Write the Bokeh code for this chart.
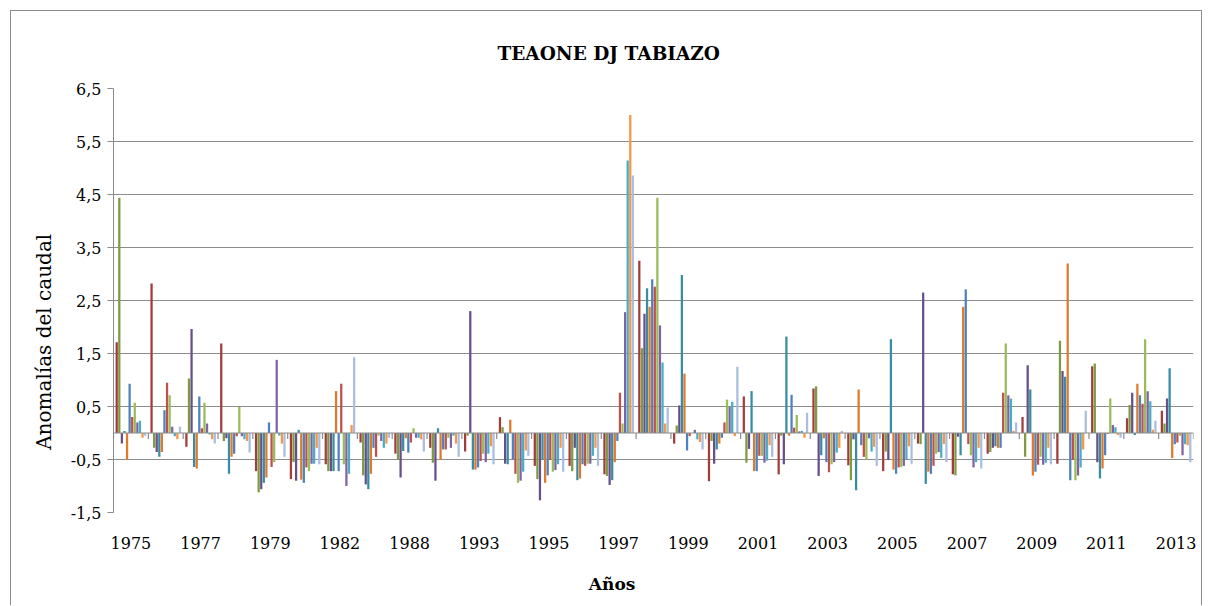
from bokeh.plotting import figure
from bokeh.models import FixedTicker, Range1d, Span, Title
from bokeh.embed import file_html
from bokeh.resources import INLINE

# Categorías (años) y anomalías mensuales (12 series)
anios = ["1975", "1976", "1977", "1978", "1979", "1981", "1982", "1983", "1988", "1990",
         "1993", "1994", "1995", "1996", "1997", "1998", "1999", "2000", "2001", "2002",
         "2003", "2004", "2005", "2006", "2007", "2008", "2009", "2010", "2011", "2012", "2013"]

m01 = [1.71, 2.82, -0.26, 1.69, -0.72, -0.87, -0.59, -0.18, -0.39, -0.28, -0.35, 0.3, -0.62, -0.62, -0.78, 3.25,
       -0.2, -0.91, 0.69, -0.78, 0.84, -0.61, -0.72, -0.2, -0.78, -0.39, 0.3, -0.58, 1.26, 0.28, 0.42]
m02 = [4.44, -0.28, 1.03, -0.15, -1.12, -0.55, -0.72, -0.8, -0.51, -0.56, -0.05, 0.11, -0.87, -0.72, -0.81, 1.6,
       0.14, -0.15, -0.56, -0.05, 0.88, -0.89, -0.35, -0.21, -0.8, -0.36, -0.45, 1.74, 1.31, 0.53, 0.18]
m03 = [-0.2, -0.36, 1.96, -0.1, -1.06, -0.9, -0.72, -0.97, -0.84, -0.9, 2.3, -0.58, -1.27, -0.28, -0.98, 2.25,
       0.52, -0.58, -0.3, -0.59, -0.81, -0.12, -0.51, 2.65, -0.07, -0.28, 1.28, 1.17, -0.55, 0.76, 0.65]
m04 = [0.04, -0.45, -0.64, -0.77, -0.94, 0.06, -0.72, -1.06, -0.34, 0.09, -0.69, -0.59, -0.5, -0.89, -0.89, 2.73,
       2.98, -0.31, 0.79, 1.82, -0.42, -1.08, 1.77, -0.96, -0.42, -0.25, 0.82, 1.06, -0.86, -0.04, 1.22]
m05 = [-0.51, -0.36, -0.67, -0.45, -0.84, -0.88, 0.79, -0.77, -0.1, -0.51, -0.69, 0.25, -0.94, -0.86, -0.55, 2.38,
       1.12, -0.2, -0.72, -0.05, -0.1, 0.82, -0.69, -0.73, 2.38, -0.28, -0.8, 3.2, -0.67, 0.93, -0.47]
m06 = [0.93, 0.43, 0.69, -0.39, 0.2, -0.94, -0.72, -0.28, -0.37, -0.31, -0.65, -0.5, -0.8, -0.59, -0.15, 2.9,
       -0.33, -0.09, -0.72, 0.72, -0.55, -0.23, -0.77, -0.77, 2.71, -0.28, -0.73, -0.89, -0.42, 0.71, -0.21]
m07 = [0.3, 0.95, 0.09, -0.06, -0.64, -0.65, 0.93, -0.45, -0.18, -0.31, -0.53, -0.77, -0.51, -0.62, 0.76, 2.76,
       -0.06, 0.2, -0.43, 0.1, -0.74, -0.45, -0.65, -0.62, -0.21, 0.76, -0.6, -0.51, -0.02, 0.55, -0.18]
m08 = [0.57, 0.71, 0.57, 0.49, -0.55, -0.72, -0.59, -0.05, 0.09, -0.09, -0.39, -0.94, -0.73, -0.58, 0.18, 4.44,
       0.0, 0.63, -0.43, 0.34, -0.59, -0.5, -0.64, -0.39, -0.42, 1.69, -0.45, -0.89, 0.65, 1.77, -0.05]
m09 = [0.2, 0.12, 0.18, -0.06, 1.38, -0.58, -1.0, -0.15, -0.09, -0.28, -0.55, -0.9, -0.7, -0.58, 2.28, 2.03,
       0.06, 0.49, -0.56, 0.03, -0.55, -0.1, -0.62, -0.36, -0.65, 0.71, -0.6, -0.8, 0.15, 0.79, -0.42]
m10 = [0.23, -0.06, -0.03, -0.12, -0.05, -0.58, -0.77, -0.28, -0.09, -0.05, -0.39, -0.73, -0.59, -0.43, 5.14, 1.33,
       -0.12, 0.59, -0.52, 0.04, -0.37, -0.35, -0.5, -0.47, -0.55, 0.65, -0.56, -0.65, 0.11, 0.6, -0.21]
m11 = [-0.09, -0.12, -0.12, -0.15, -0.2, -0.28, 0.15, -0.2, -0.12, -0.2, -0.25, -0.33, -0.28, -0.28, 6.0, 0.18,
       -0.17, -0.06, -0.23, -0.09, -0.28, -0.26, -0.25, -0.21, -0.28, 0.04, -0.28, -0.31, -0.04, 0.06, -0.23]
m12 = [-0.05, 0.12, -0.2, -0.37, -0.45, -0.59, 1.43, -0.09, -0.35, -0.45, -0.59, -0.43, -0.73, -0.62, 4.86, 0.48,
       -0.31, 1.25, -0.45, 0.38, 0.04, -0.62, -0.58, -0.55, -0.67, 0.2, -0.59, 0.42, -0.09, 0.23, -0.55]

colores = ["#A03E3B", "#7E9A43", "#67508A", "#3A8CA3", "#DE7A2E", "#4F81BD",
           "#C0504D", "#9BBB59", "#8064A2", "#4BACC6", "#F79646", "#A9BEE0"]

y_ticks = [-1.5, -0.5, 0.5, 1.5, 2.5, 3.5, 4.5, 5.5, 6.5]

titulo = "TEAONE DJ TABIAZO"
titulo_y = "Anomalías del caudal"
titulo_x = "Años"

series = [m01, m02, m03, m04, m05, m06, m07, m08, m09, m10, m11, m12]
N = len(anios)
NS = len(series)
GAP = 1.5  # gap width (in bar widths)
slot = 1.0 / (NS + GAP)

FONT = "DejaVu Serif"
GRID = "#8C8C8C"
NBSP = "\u00a0"

MB_L, MB_R, MB_T, MB_B = 102, 10, 77, 94
W, H = 1192, 595
FH = H - MB_T - MB_B
y0, y1 = y_ticks[0], y_ticks[-1]

p = figure(width=W, height=H, output_backend="svg", toolbar_location=None, title=None,
           x_range=Range1d(0, N), y_range=Range1d(y0, y1),
           min_border_left=MB_L, min_border_right=MB_R, min_border_top=MB_T, min_border_bottom=MB_B,
           styles={"border-left": "1px solid #8C8C8C", "border-top": "1px solid #8C8C8C",
                   "border-right": "1px solid #8C8C8C",
                   "margin-left": "10px", "margin-top": "10px"})
p.outline_line_color = None
p.background_fill_color = "white"
p.border_fill_color = "white"

for m, vals in enumerate(series):
    xs = [k + (GAP / 2 + m + 0.5) * slot for k in range(N)]
    p.vbar(x=xs, top=vals, bottom=0, width=slot * 0.88, fill_color=colores[m],
           line_color=None)

# eje horizontal en cero y marcas entre categorías
p.add_layout(Span(location=0, dimension="width", line_color=GRID, line_width=1.2))
tick_len = 6 * (y1 - y0) / FH
bounds = list(range(N + 1))
p.segment(x0=bounds, y0=[0] * len(bounds), x1=bounds, y1=[-tick_len] * len(bounds),
          line_color=GRID, line_width=1.2)

# rejilla
p.xgrid.visible = False
p.ygrid.ticker = FixedTicker(ticks=y_ticks)
p.ygrid.grid_line_color = GRID
p.ygrid.grid_line_width = 1.2

# eje Y
p.yaxis.ticker = FixedTicker(ticks=y_ticks)
p.yaxis.major_label_overrides = {t: ("%.1f" % t).replace(".", ",") for t in y_ticks}
p.yaxis.axis_line_color = GRID
p.yaxis.major_tick_line_color = GRID
p.yaxis.major_tick_out = 6
p.yaxis.major_tick_in = 0
p.yaxis.minor_tick_line_color = None
p.yaxis.major_label_text_font = FONT
p.yaxis.major_label_text_font_size = "16px"
p.yaxis.major_label_text_color = "black"
p.yaxis.major_label_standoff = 6
p.yaxis.axis_label = titulo_y + NBSP * 13
p.yaxis.axis_label_text_font = FONT
p.yaxis.axis_label_text_font_style = "normal"
p.yaxis.axis_label_text_font_size = "20px"
p.yaxis.axis_label_text_color = "black"
p.yaxis.axis_label_standoff = 12

# eje X
x_pos = [k + 0.5 for k in range(0, N, 2)]
p.xaxis.ticker = FixedTicker(ticks=x_pos)
p.xaxis.major_label_overrides = {k + 0.5: anios[k] for k in range(0, N, 2)}
p.xaxis.axis_line_color = None
p.xaxis.major_tick_line_color = None
p.xaxis.minor_tick_line_color = None
p.xaxis.major_label_text_font = FONT
p.xaxis.major_label_text_font_size = "16px"
p.xaxis.major_label_text_color = "black"
p.xaxis.major_label_standoff = 18
p.xaxis.axis_label = titulo_x + NBSP * 14
p.xaxis.axis_label_text_font = FONT
p.xaxis.axis_label_text_font_style = "bold"
p.xaxis.axis_label_text_font_size = "17px"
p.xaxis.axis_label_text_color = "black"
p.xaxis.axis_label_standoff = 22

# separador y título
p.add_layout(Title(text=NBSP, text_font=FONT, text_font_size="15px", standoff=0), "above")
p.add_layout(Title(text=titulo, align="left", offset=384, text_font=FONT,
                   text_font_style="bold", text_font_size="18.5px", text_color="black"), "above")

open("out.html", "w").write(file_html(p, INLINE))
